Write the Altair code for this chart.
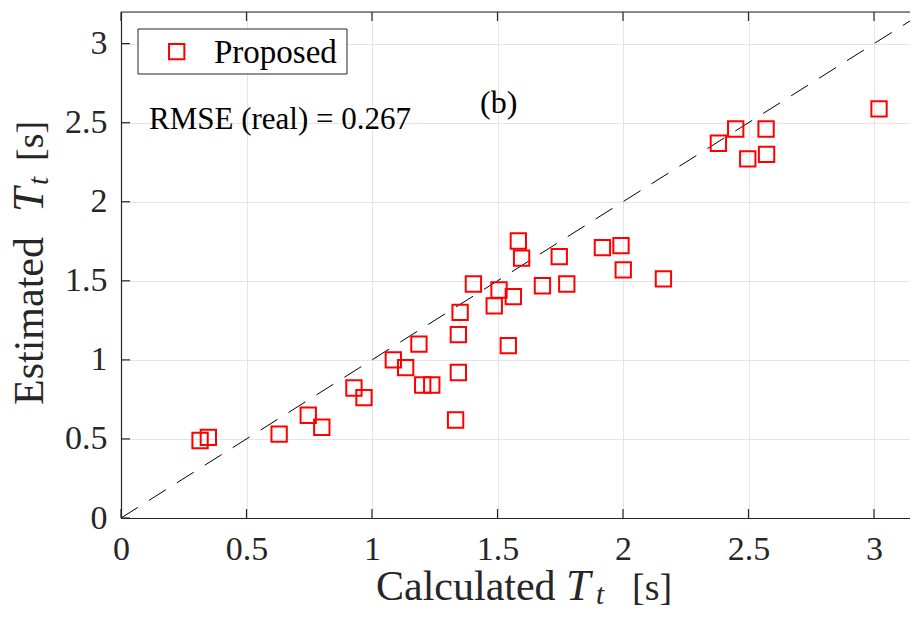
import altair as alt
import pandas as pd

# ---- data ----
calculated = [0.315, 0.348, 0.63, 0.746, 0.80, 0.928, 0.968, 1.085, 1.134, 1.187,
              1.202, 1.238, 1.344, 1.344, 1.333, 1.351, 1.404, 1.506, 1.563, 1.487,
              1.543, 1.583, 1.596, 1.679, 1.746, 1.776, 1.918, 1.992, 2.001, 2.161,
              2.38, 2.449, 2.57, 2.497, 2.572, 3.02]
estimated = [0.49, 0.51, 0.53, 0.65, 0.574, 0.822, 0.761, 1.0, 0.951, 1.10,
             0.841, 0.841, 1.16, 0.92, 0.62, 1.30, 1.48, 1.442, 1.40, 1.341,
             1.09, 1.752, 1.643, 1.469, 1.653, 1.48, 1.71, 1.722, 1.569, 1.512,
             2.37, 2.46, 2.46, 2.271, 2.30, 2.587]
tick_values = [0, 0.5, 1, 1.5, 2, 2.5, 3]
ref_line = [0, 3.2]
x_domain = [0, 3.1434]
y_domain = [0, 3.2]
legend_label = "Proposed"
rmse_text = "RMSE (real) = 0.267"
panel_text = "(b)"

W, H = 789, 506
FONT = "Liberation Serif, Times New Roman, serif"
AX = "#262626"
RED = "#ff0000"

xs = alt.Scale(domain=x_domain, nice=False, zero=False)
ys = alt.Scale(domain=y_domain, nice=False, zero=False)

common_axis = dict(values=tick_values, format="~g", title=None, grid=True,
                   gridColor="#e4e4e4", gridWidth=1, ticks=False, tickSize=0,
                   domainColor=AX, domainWidth=1.2, labelFont=FONT,
                   labelFontSize=34, labelColor=AX, labelPadding=14)
xaxis = alt.Axis(**common_axis, labelFlush=False)
yaxis = alt.Axis(**common_axis)

pts = pd.DataFrame({"calc": calculated, "est": estimated})
line_df = pd.DataFrame({"v": ref_line})
tick_df = pd.DataFrame({"v": tick_values})
one = pd.DataFrame({"a": [0]})

line = alt.Chart(line_df).mark_line(color="black", strokeWidth=1,
                                     strokeDash=[20, 13], clip=True).encode(
    x=alt.X("v:Q", scale=xs, axis=xaxis, title=None),
    y=alt.Y("v:Q", scale=ys, axis=yaxis, title=None))

points = alt.Chart(pts).mark_point(shape="square", size=235, strokeWidth=2,
                                   color=RED, filled=False, opacity=1).encode(
    x=alt.X("calc:Q", scale=xs, axis=xaxis, title=None),
    y=alt.Y("est:Q", scale=ys, axis=yaxis, title=None))

tk = dict(color=AX, strokeWidth=1.2)
xt_bottom = alt.Chart(tick_df).mark_rule(**tk).encode(
    x=alt.X("v:Q", scale=xs, axis=xaxis, title=None),
    y=alt.value(H), y2=alt.value(H - 9))
xt_top = alt.Chart(tick_df).mark_rule(**tk).encode(
    x=alt.X("v:Q", scale=xs, axis=xaxis, title=None),
    y=alt.value(0), y2=alt.value(9))
yt_left = alt.Chart(tick_df).mark_rule(**tk).encode(
    y=alt.Y("v:Q", scale=ys, axis=yaxis, title=None),
    x=alt.value(0), x2=alt.value(9))
top_border = alt.Chart(one).mark_rule(**tk).encode(
    x=alt.value(0), x2=alt.value(W), y=alt.value(0))

# legend box
leg_box = alt.Chart(one).mark_rect(fill="white", stroke=AX, strokeWidth=1).encode(
    x=alt.value(17), x2=alt.value(226), y=alt.value(17), y2=alt.value(62))
leg_sym = alt.Chart(one).mark_point(shape="square", size=235, strokeWidth=2,
                                    color=RED, filled=False, opacity=1).encode(
    x=alt.value(55.7), y=alt.value(39.7))
leg_txt = alt.Chart(one).mark_text(text=legend_label, font=FONT, fontSize=33,
                                   color="black", align="left",
                                   baseline="alphabetic").encode(
    x=alt.value(93), y=alt.value(50.5))

rmse = alt.Chart(one).mark_text(text=rmse_text, font=FONT, fontSize=31,
                                color="black", align="left",
                                baseline="alphabetic").encode(
    x=alt.value(28), y=alt.value(117))
panel = alt.Chart(one).mark_text(text=panel_text, font=FONT, fontSize=32,
                                 color="black", align="left",
                                 baseline="alphabetic").encode(
    x=alt.value(359), y=alt.value(101))

# axis titles built from pieces (normal / italic / subscript)
def txt(s, x, y, size=42, style="normal", angle=0):
    return alt.Chart(one).mark_text(text=s, font=FONT, fontSize=size,
                                    fontStyle=style, color=AX, align="left",
                                    baseline="alphabetic", angle=angle).encode(
        x=alt.value(x), y=alt.value(y))

XB = 588
xtitle = [
    txt("Calculated", 255, XB),
    txt("T", 445, XB, size=44, style="italic"),
    txt("t", 475, XB + 4, size=29, style="italic"),
    txt("[s]", 511, XB, size=38),
]
ytitle = [
    txt("Estimated", -78, 393, angle=270),
    txt("T", -78, 200, size=44, style="italic", angle=270),
    txt("t", -73, 173, size=29, style="italic", angle=270),
    txt("[s]", -78, 149, size=38, angle=270),
]

chart = alt.layer(line, points, xt_bottom, xt_top, yt_left, top_border,
                  leg_box, leg_sym, leg_txt, rmse, panel, *xtitle, *ytitle).properties(
    width=W, height=H,
    autosize=alt.AutoSizeParams(type="none"),
    padding={"left": 113, "top": 4, "right": 0, "bottom": 92},
).configure_view(stroke=None).configure(background="white")

chart.save("out.html", embed_options={"renderer": "svg", "actions": False})
